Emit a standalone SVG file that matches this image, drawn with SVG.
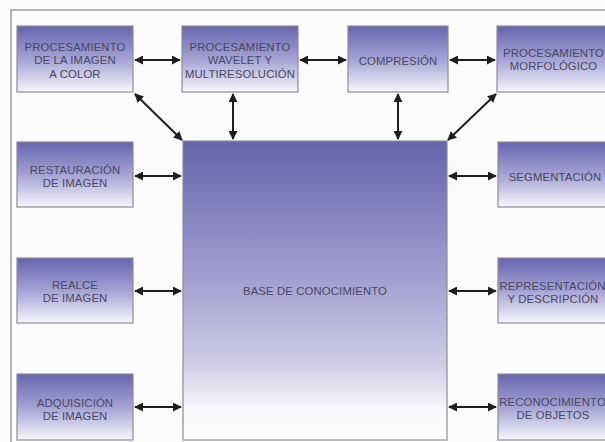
<svg xmlns="http://www.w3.org/2000/svg" width="605" height="442" viewBox="0 0 605 442">
<defs>
<linearGradient id="gs" x1="0" y1="0" x2="0" y2="1">
<stop offset="0" stop-color="#6664ae"/>
<stop offset="0.5" stop-color="#a4a2d4"/>
<stop offset="1" stop-color="#f6f6fb"/>
</linearGradient>
<linearGradient id="gb" x1="0" y1="0" x2="0" y2="1">
<stop offset="0" stop-color="#6664ac"/>
<stop offset="0.45" stop-color="#a19ed0"/>
<stop offset="0.75" stop-color="#cfcde6"/>
<stop offset="0.9" stop-color="#f8f8fc"/>
<stop offset="1" stop-color="#ffffff"/>
</linearGradient>
<marker id="ah" viewBox="0 0 10 10" refX="9" refY="5" markerWidth="4.5" markerHeight="4.5" orient="auto-start-reverse" markerUnits="strokeWidth">
<path d="M0,0 L10,5 L0,10 z" fill="#1e1e1e"/>
</marker>
<style>
.box{fill:url(#gs);stroke:#8c8c96;stroke-width:1.2}
.big{fill:url(#gb);stroke:#8c8c96;stroke-width:1.2}
text{font-family:"Liberation Sans",Arial,sans-serif;font-size:11.3px;fill:#474760;text-anchor:middle;letter-spacing:0.15px}
.c line{stroke:#1e1e1e;stroke-width:2;marker-start:url(#ah);marker-end:url(#ah)}
</style>
</defs>
<rect x="0" y="0" width="605" height="442" fill="#fbfbfb"/>
<rect x="11" y="10" width="610" height="450" fill="none" stroke="#9a9a9a" stroke-width="1.5"/>

<g id="n-color"><rect class="box" x="17" y="26" width="116" height="66"/>
<text x="75" y="50.5">PROCESAMIENTO</text><text x="75" y="64">DE LA IMAGEN</text><text x="75" y="77.5">A COLOR</text></g>
<g id="n-wavelet"><rect class="box" x="182" y="26" width="116" height="66"/>
<text x="240" y="50.5">PROCESAMIENTO</text><text x="240" y="64">WAVELET Y</text><text x="240" y="77.5">MULTIRESOLUCIÓN</text></g>
<g id="n-compresion"><rect class="box" x="348" y="26" width="100" height="66"/>
<text x="398" y="65">COMPRESIÓN</text></g>
<g id="n-morfo"><rect class="box" x="497" y="26" width="118" height="66"/>
<text x="553.5" y="57">PROCESAMIENTO</text><text x="553.5" y="70">MORFOLÓGICO</text></g>

<g id="n-restauracion"><rect class="box" x="17" y="142" width="116" height="65"/>
<text x="75" y="174">RESTAURACIÓN</text><text x="75" y="187">DE IMAGEN</text></g>
<g id="n-realce"><rect class="box" x="17" y="258" width="116" height="65"/>
<text x="75" y="289">REALCE</text><text x="75" y="302">DE IMAGEN</text></g>
<g id="n-adquisicion"><rect class="box" x="17" y="374" width="116" height="66"/>
<text x="75" y="407">ADQUISICIÓN</text><text x="75" y="420">DE IMAGEN</text></g>

<g id="n-segmentacion"><rect class="box" x="498" y="142" width="117" height="65"/>
<text x="555" y="181">SEGMENTACIÓN</text></g>
<g id="n-representacion"><rect class="box" x="498" y="258" width="117" height="65"/>
<text x="552.5" y="290">REPRESENTACIÓN</text><text x="553" y="302.5">Y DESCRIPCIÓN</text></g>
<g id="n-reconocimiento"><rect class="box" x="498" y="374" width="117" height="66"/>
<text x="552.5" y="406">RECONOCIMIENTO</text><text x="553" y="419">DE OBJETOS</text></g>

<g id="n-base"><rect class="big" x="183" y="141" width="264" height="299"/>
<text x="315" y="295">BASE DE CONOCIMIENTO</text></g>

<g id="connectors" class="c">
<line x1="135" y1="60" x2="180" y2="60"/>
<line x1="300" y1="60" x2="346" y2="60"/>
<line x1="450" y1="60" x2="495" y2="60"/>
<line x1="233" y1="94" x2="233" y2="139"/>
<line x1="398" y1="94" x2="398" y2="139"/>
<line x1="135" y1="94" x2="182" y2="140"/>
<line x1="496" y1="94" x2="448" y2="140"/>
<line x1="135" y1="176" x2="181" y2="176"/>
<line x1="135" y1="291" x2="181" y2="291"/>
<line x1="135" y1="407" x2="181" y2="407"/>
<line x1="449" y1="176" x2="496" y2="176"/>
<line x1="449" y1="291" x2="496" y2="291"/>
<line x1="449" y1="407" x2="496" y2="407"/>
</g>
</svg>
